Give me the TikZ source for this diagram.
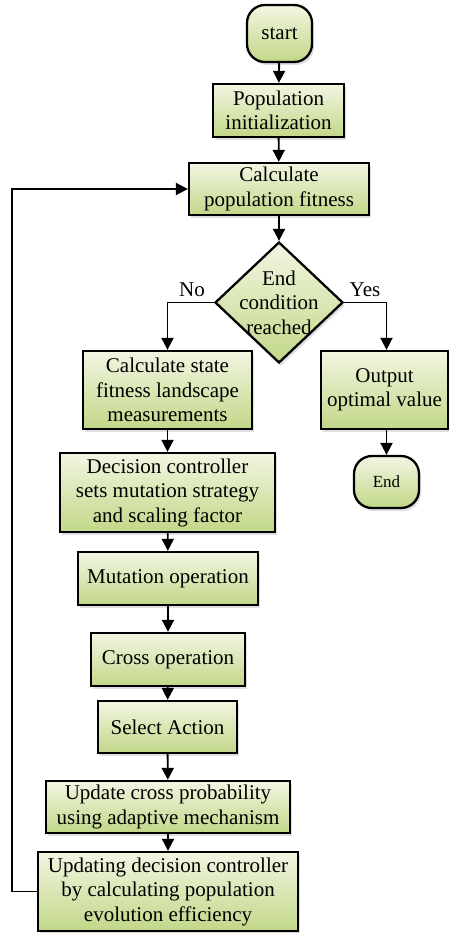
\documentclass[tikz,border=0pt]{standalone}
\usepackage{fontspec}
\setmainfont{Liberation Serif}
\usetikzlibrary{shapes.geometric,arrows.meta,shadows}
\definecolor{boxtop}{HTML}{F2F6E2}
\definecolor{boxbot}{HTML}{C2D788}
\begin{document}
\begin{tikzpicture}[x=1pt,y=-1pt,
  base/.style={draw=black, line width=2.3pt, top color=boxtop, bottom color=boxbot,
    drop shadow={opacity=0.25, shadow xshift=2pt, shadow yshift=-3pt},
    align=center, inner sep=0pt, font=\fontsize{21}{24.5}\selectfont},
  procbox/.style={base, rectangle},
  termbox/.style={base, rectangle, rounded corners=18pt},
  decbox/.style={base, diamond},
  plain/.style={align=center, inner sep=0pt, font=\fontsize{21}{24.5}\selectfont},
  arr/.style={line width=1.9pt, -{Triangle[width=12pt,length=12pt]}}
]
\useasboundingbox (0,0) rectangle (448,933);

\node[termbox, minimum width=65pt, minimum height=57pt] (start) at (279.5,33.5) {start};
\node[procbox, minimum width=131pt, minimum height=53pt] (pop) at (278.5,110.5) {Population\\initialization};
\node[procbox, minimum width=180pt, minimum height=52pt] (cf) at (279,189) {Calculate\\population fitness};
\node[decbox, minimum width=128pt, minimum height=121pt] (d) at (279,302.5) {};
\node[plain] (dtxt) at (d.center) {End\\condition\\reached};
\node[procbox, minimum width=169pt, minimum height=78pt] (cs) at (167.5,390) {Calculate state\\fitness landscape\\measurements};
\node[procbox, minimum width=127pt, minimum height=78pt] (out) at (384.5,390) {Output\\optimal value};
\node[termbox, minimum width=65pt, minimum height=52pt, font=\fontsize{17}{20}\selectfont] (end) at (386.5,482) {End};
\node[procbox, minimum width=215pt, minimum height=79pt] (dc) at (167.5,492.5) {Decision controller\\sets mutation strategy\\and scaling factor};
\node[procbox, minimum width=180pt, minimum height=53pt] (mut) at (168,578.5) {Mutation operation};
\node[procbox, minimum width=154pt, minimum height=53pt] (cross) at (168,659.5) {Cross operation};
\node[procbox, minimum width=139pt, minimum height=52pt] (sel) at (167.5,727) {Select Action};
\node[procbox, minimum width=244pt, minimum height=52pt] (uc) at (168,807) {Update cross probability\\using adaptive mechanism};
\node[procbox, minimum width=260pt, minimum height=79pt] (ud) at (168,891.5) {Updating decision controller\\by calculating population\\evolution efficiency};

\node[plain] (no) at (192,290) {No};
\node[plain] (yes) at (365,290) {Yes};

\coordinate (fb) at (12,891.5);

\draw[arr] (start) -- (pop);
\draw[arr] (pop) -- (cf);
\draw[arr] (cf) -- (d);
\draw[arr] (d.west) -| (cs.north);
\draw[arr] (d.east) -| (end.north |- out.north);
\draw[arr] (end.north |- out.south) -- (end.north);
\draw[arr] (cs) -- (dc);
\draw[arr] (dc) -- (mut);
\draw[arr] (mut) -- (cross);
\draw[arr] (cross) -- (sel);
\draw[arr] (sel) -- (uc);
\draw[arr] (uc) -- (ud);
\draw[arr] (ud.west) -- (fb) |- (cf.west);
\end{tikzpicture}
\end{document}
